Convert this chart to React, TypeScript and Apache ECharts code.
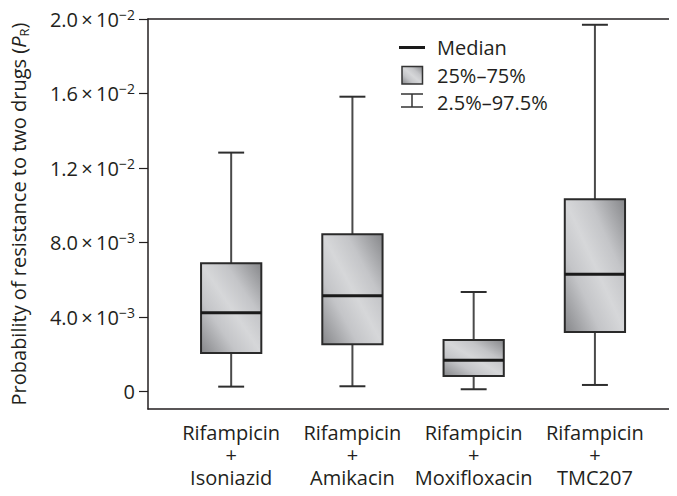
import React, { useEffect, useRef } from "react";
import * as echarts from "echarts";

const drugs = ["Isoniazid", "Amikacin", "Moxifloxacin", "TMC207"];
const lowWhisker = [0.00027, 0.00029, 0.00013, 0.00036];
const q1Values = [0.00208, 0.00254, 0.00084, 0.0032];
const medianValues = [0.00424, 0.00515, 0.00168, 0.0063];
const q3Values = [0.00689, 0.00845, 0.00277, 0.01032];
const highWhisker = [0.01283, 0.01583, 0.00535, 0.01969];

const yTickValues = [0, 0.004, 0.008, 0.012, 0.016, 0.02];
const yTickMantissa = ["0", "4.0", "8.0", "1.2", "1.6", "2.0"];
const yTickExponent = ["", "−3", "−3", "−2", "−2", "−2"];

const FONT = "Open Sans";
const TEXT = "#231f20";

function boxGradient() {
  return new echarts.graphic.LinearGradient(1, 0, 0, 1, [
    { offset: 0, color: "#86878a" },
    { offset: 0.3, color: "#c4c5c8" },
    { offset: 0.5, color: "#d6d7d9" },
    { offset: 0.7, color: "#c4c5c8" },
    { offset: 1, color: "#86878a" },
  ]);
}

export default function App() {
  const ref = useRef<HTMLDivElement>(null);
  useEffect(() => {
    if (!ref.current) return;
    const chart = echarts.init(ref.current, null, { renderer: "svg" });
    const data = drugs.map((_, i) => [
      i,
      lowWhisker[i],
      q1Values[i],
      medianValues[i],
      q3Values[i],
      highWhisker[i],
    ]);
    const idxOf = (v: number) => {
      let best = 0;
      for (let i = 0; i < yTickValues.length; i++) {
        if (Math.abs(yTickValues[i] - v) < Math.abs(yTickValues[best] - v)) best = i;
      }
      return best;
    };
    const option: any = {
      animation: false,
      backgroundColor: "#ffffff",
      textStyle: { fontFamily: FONT, color: TEXT },
      grid: { left: 147, right: 0, top: 19, bottom: 87, containLabel: false },
      xAxis: [
        {
          type: "value",
          min: -0.686,
          max: 3.677,
          axisLine: { show: true, onZero: false, lineStyle: { color: "#231f20", width: 1.5 } },
          axisTick: { show: false },
          splitLine: { show: false },
          axisLabel: {
            customValues: [0, 1, 2, 3],
            margin: 12,
            fontSize: 20,
            lineHeight: 22.5,
            verticalAlign: "top",
            fontFamily: FONT,
            color: TEXT,
            formatter: (v: number) => "Rifampicin\n+\n" + drugs[Math.round(v)],
          },
        },
        {
          type: "value",
          position: "top",
          min: -0.686,
          max: 3.677,
          axisLine: { show: true, onZero: false, lineStyle: { color: "#231f20", width: 1.5 } },
          axisTick: { show: false },
          axisLabel: { show: false },
          splitLine: { show: false },
        },
      ],
      yAxis: {
        type: "value",
        min: -0.00093,
        max: 0.02,
        axisLine: { show: true, onZero: false, lineStyle: { color: "#231f20", width: 1.5 } },
        axisTick: {
          show: true,
          customValues: yTickValues,
          length: 9,
          lineStyle: { color: "#231f20", width: 1.2 },
        },
        splitLine: { show: false },
        axisLabel: {
          customValues: yTickValues,
          margin: 13,
          formatter: (v: number) => {
            const i = idxOf(v);
            return yTickExponent[i]
              ? `{m|${yTickMantissa[i]}\u2009×\u200910}{e|${yTickExponent[i]}}`
              : `{m|${yTickMantissa[i]}}`;
          },
          rich: {
            m: { fontSize: 20, fontFamily: FONT, color: TEXT, lineHeight: 24 },
            e: { fontSize: 14, fontFamily: FONT, color: TEXT, verticalAlign: "top", lineHeight: 14 },
          },
        },
        name: "{n|Probability of resistance to two drugs (}{i|P}{r|R}{n|)}",
        nameLocation: "middle",
        nameGap: 118,
        nameRotate: 90,
        nameTextStyle: {
          rich: {
            n: { fontSize: 20, fontFamily: FONT, color: TEXT, lineHeight: 24 },
            i: { fontSize: 20, fontFamily: FONT, color: TEXT, fontStyle: "italic", lineHeight: 24 },
            r: { fontSize: 13, fontFamily: FONT, color: TEXT, verticalAlign: "bottom", lineHeight: 13 },
          },
        },
      },
      graphic: [
        {
          type: "line",
          shape: { x1: 399, y1: 47.5, x2: 425, y2: 47.5 },
          style: { stroke: "#1a1a1a", lineWidth: 3 },
        },
        {
          type: "text",
          x: 437,
          y: 47,
          style: { text: "Median", fontSize: 20, fontFamily: FONT, fill: TEXT, verticalAlign: "middle" },
        },
        {
          type: "rect",
          shape: { x: 402, y: 66.5, width: 20.5, height: 17.5 },
          style: { fill: boxGradient(), stroke: "#333333", lineWidth: 1.5 },
        },
        {
          type: "text",
          x: 437,
          y: 75,
          style: { text: "25%–75%", fontSize: 20, fontFamily: FONT, fill: TEXT, verticalAlign: "middle" },
        },
        {
          type: "line",
          shape: { x1: 401, y1: 94, x2: 423, y2: 94 },
          style: { stroke: "#333333", lineWidth: 1.5 },
        },
        {
          type: "line",
          shape: { x1: 412, y1: 94, x2: 412, y2: 107 },
          style: { stroke: "#333333", lineWidth: 1.5 },
        },
        {
          type: "line",
          shape: { x1: 401, y1: 107, x2: 423, y2: 107 },
          style: { stroke: "#333333", lineWidth: 1.5 },
        },
        {
          type: "text",
          x: 437,
          y: 102,
          style: { text: "2.5%–97.5%", fontSize: 20, fontFamily: FONT, fill: TEXT, verticalAlign: "middle" },
        },
      ],
      series: [
        {
          type: "custom",
          xAxisIndex: 0,
          data,
          renderItem: (params: any, api: any) => {
            const x = api.value(0);
            const lo = api.coord([x, api.value(1)]);
            const q1 = api.coord([x, api.value(2)]);
            const md = api.coord([x, api.value(3)]);
            const q3 = api.coord([x, api.value(4)]);
            const hi = api.coord([x, api.value(5)]);
            const unit = api.size([1, 0])[0];
            const bw = unit * 0.497;
            const cw = unit * 0.214;
            const cx = lo[0];
            return {
              type: "group",
              children: [
                {
                  type: "line",
                  shape: { x1: cx, y1: hi[1], x2: cx, y2: q3[1] },
                  style: { stroke: "#4a4a4a", lineWidth: 2 },
                },
                {
                  type: "line",
                  shape: { x1: cx, y1: q1[1], x2: cx, y2: lo[1] },
                  style: { stroke: "#4a4a4a", lineWidth: 2 },
                },
                {
                  type: "line",
                  shape: { x1: cx - cw / 2, y1: hi[1], x2: cx + cw / 2, y2: hi[1] },
                  style: { stroke: "#2e2e2e", lineWidth: 2 },
                },
                {
                  type: "line",
                  shape: { x1: cx - cw / 2, y1: lo[1], x2: cx + cw / 2, y2: lo[1] },
                  style: { stroke: "#2e2e2e", lineWidth: 2 },
                },
                {
                  type: "rect",
                  shape: { x: cx - bw / 2, y: q3[1], width: bw, height: q1[1] - q3[1] },
                  style: { fill: boxGradient(), stroke: "#2a2a2a", lineWidth: 2 },
                },
                {
                  type: "line",
                  shape: { x1: cx - bw / 2, y1: md[1], x2: cx + bw / 2, y2: md[1] },
                  style: { stroke: "#1a1a1a", lineWidth: 3 },
                },
              ],
            };
          },
        },
      ],
    };
    chart.setOption(option);
    return () => chart.dispose();
  }, []);
  return <div ref={ref} style={{ width: 677, height: 496, margin: -8 }} />;
}
